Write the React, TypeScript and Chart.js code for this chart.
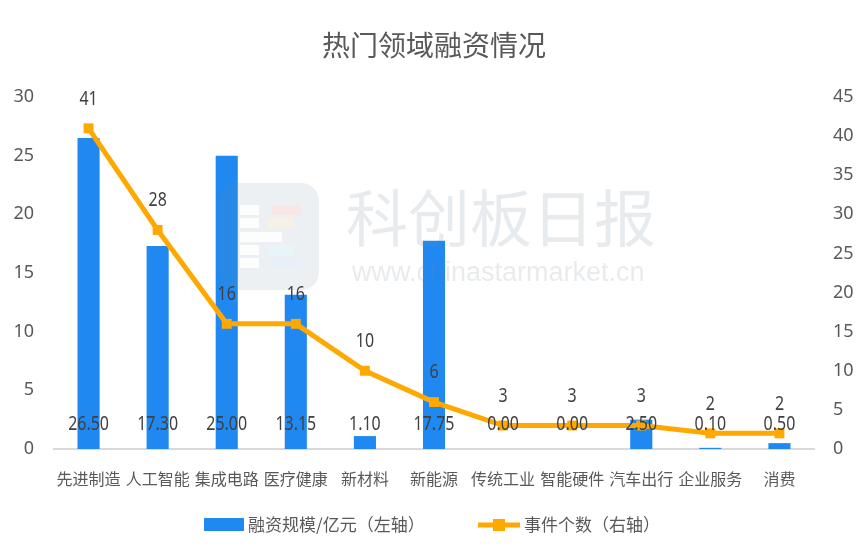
import React, { useEffect, useRef } from "react";
import { Chart, registerables } from "chart.js";

Chart.register(...registerables);

const categories = ["先进制造", "人工智能", "集成电路", "医疗健康", "新材料", "新能源", "传统工业", "智能硬件", "汽车出行", "企业服务", "消费"];
const fundingAmount = [26.5, 17.3, 25.0, 13.15, 1.1, 17.75, 0.0, 0.0, 2.5, 0.1, 0.5];
const eventCount = [41, 28, 16, 16, 10, 6, 3, 3, 3, 2, 2];
const titleText = "热门领域融资情况";
const barLegend = "融资规模/亿元（左轴）";
const lineLegend = "事件个数（右轴）";
const watermarkCn = "科创板日报";
const watermarkUrl = "www.chinastarmarket.cn";

const BLUE = "#1F89F1";
const ORANGE = "#FFA800";
const TEXT = "#595959";
const LABEL = "#404040";
const CJK = '"Noto Sans CJK SC", "Noto Sans", sans-serif';
const NUM = '"Noto Sans", sans-serif';

function roundRect(ctx: any, x: number, y: number, w: number, h: number, r: number) {
  ctx.beginPath();
  ctx.moveTo(x + r, y);
  ctx.arcTo(x + w, y, x + w, y + h, r);
  ctx.arcTo(x + w, y + h, x, y + h, r);
  ctx.arcTo(x, y + h, x, y, r);
  ctx.arcTo(x, y, x + w, y, r);
  ctx.closePath();
}

function narrowText(ctx: any, text: string, x: number, y: number) {
  ctx.save();
  ctx.translate(x, y);
  ctx.scale(0.84, 1);
  ctx.fillText(text, 0, 0);
  ctx.restore();
}

const decorPlugin = {
  id: "decor",
  afterDatasetsDraw(chart: any) {
    const ctx = chart.ctx;
    const area = chart.chartArea;
    ctx.save();
    // watermark logo
    ctx.globalAlpha = 0.12;
    ctx.fillStyle = "#6f8396";
    roundRect(ctx, 219, 183, 100, 107, 18);
    ctx.fill();
    ctx.globalAlpha = 0.85;
    ctx.fillStyle = "#ffffff";
    ctx.fillRect(240, 205, 19, 10);
    ctx.fillRect(240, 218, 19, 10);
    ctx.fillRect(240, 232, 42, 10);
    ctx.fillRect(240, 245, 19, 10);
    ctx.fillRect(240, 258, 19, 10);
    ctx.globalAlpha = 0.6;
    ctx.fillStyle = "#fde2df";
    ctx.fillRect(272, 205, 29, 10);
    ctx.fillStyle = "#fdf0dc";
    ctx.fillRect(267, 218, 27, 10);
    ctx.fillStyle = "#e3f6fb";
    ctx.fillRect(267, 245, 27, 10);
    ctx.fillStyle = "#e4effd";
    ctx.fillRect(272, 258, 29, 10);
    // watermark text
    ctx.globalAlpha = 0.16;
    ctx.fillStyle = "#6f8396";
    ctx.font = `62px ${CJK}`;
    ctx.textAlign = "left";
    ctx.textBaseline = "middle";
    ctx.fillText(watermarkCn, 346, 218);
    ctx.font = `27px "Liberation Sans", sans-serif`;
    ctx.fillText(watermarkUrl, 352, 274);
    ctx.restore();

    // data labels
    ctx.save();
    ctx.fillStyle = LABEL;
    ctx.font = `19px ${NUM}`;
    ctx.textAlign = "center";
    ctx.textBaseline = "middle";
    const barMeta = chart.getDatasetMeta(1);
    barMeta.data.forEach((el: any, i: number) => {
      narrowText(ctx, fundingAmount[i].toFixed(2), el.x, area.bottom - 24);
    });
    const lineMeta = chart.getDatasetMeta(0);
    lineMeta.data.forEach((el: any, i: number) => {
      narrowText(ctx, String(eventCount[i]), el.x, el.y - 29);
    });
    ctx.restore();
  },
  afterDraw(chart: any) {
    const ctx = chart.ctx;
    ctx.save();
    // title
    ctx.fillStyle = TEXT;
    ctx.font = `28px ${CJK}`;
    ctx.textAlign = "center";
    ctx.textBaseline = "middle";
    ctx.fillText(titleText, 434, 45);
    // legend
    ctx.font = `17px ${CJK}`;
    ctx.textAlign = "left";
    ctx.fillStyle = BLUE;
    ctx.fillRect(204, 518, 40, 13);
    ctx.fillStyle = TEXT;
    ctx.fillText(barLegend, 248, 525);
    ctx.strokeStyle = ORANGE;
    ctx.lineWidth = 5;
    ctx.beginPath();
    ctx.moveTo(478, 525);
    ctx.lineTo(520, 525);
    ctx.stroke();
    ctx.fillStyle = ORANGE;
    ctx.fillRect(493, 519, 12, 12);
    ctx.fillStyle = TEXT;
    ctx.fillText(lineLegend, 524, 525);
    ctx.restore();
  },
};

export default function App() {
  const ref = useRef<HTMLCanvasElement>(null);
  useEffect(() => {
    document.body.style.margin = "0";
    const chart = new Chart(ref.current as HTMLCanvasElement, {
      type: "bar",
      data: {
        labels: categories,
        datasets: [
          {
            type: "line",
            label: lineLegend,
            data: eventCount,
            yAxisID: "y1",
            borderColor: ORANGE,
            backgroundColor: ORANGE,
            borderWidth: 5,
            pointStyle: "rect",
            pointRadius: 7,
            pointBorderWidth: 0,
            pointBackgroundColor: ORANGE,
            tension: 0,
            order: 0,
            clip: false,
          } as any,
          {
            type: "bar",
            label: barLegend,
            data: fundingAmount,
            yAxisID: "y",
            backgroundColor: BLUE,
            barPercentage: 0.32,
            categoryPercentage: 1,
            order: 1,
          },
        ],
      },
      options: {
        animation: false,
        responsive: false,
        maintainAspectRatio: false,
        layout: { padding: { top: 97, left: 0, right: 0, bottom: 0 } },
        plugins: {
          legend: { display: false },
          title: { display: false },
          tooltip: { enabled: false },
        },
        scales: {
          x: {
            grid: { display: false, drawTicks: false },
            border: { display: true, color: "#d9d9d9", width: 2 },
            ticks: {
              color: TEXT,
              font: { family: CJK, size: 16 },
              padding: 20,
              maxRotation: 0,
              autoSkip: false,
            },
            afterFit(scale: any) {
              scale.height = 109;
            },
          },
          y: {
            position: "left",
            min: 0,
            max: 30,
            grid: { display: false, drawTicks: false },
            border: { display: false },
            ticks: {
              stepSize: 5,
              color: TEXT,
              font: { family: '"Noto Sans", sans-serif', size: 18 },
              padding: 20,
            },
            afterFit(scale: any) {
              scale.width = 54;
            },
          },
          y1: {
            position: "right",
            min: 0,
            max: 45,
            grid: { display: false, drawTicks: false },
            border: { display: false },
            ticks: {
              stepSize: 5,
              color: TEXT,
              font: { family: '"Noto Sans", sans-serif', size: 18 },
              padding: 19,
            },
            afterFit(scale: any) {
              scale.width = 54;
            },
          },
        },
      },
      plugins: [decorPlugin],
    });
    return () => chart.destroy();
  }, []);
  return (
    <div style={{ width: 868, height: 558, background: "#fff" }}>
      <canvas ref={ref} width={868} height={558} style={{ display: "block" }} />
    </div>
  );
}
